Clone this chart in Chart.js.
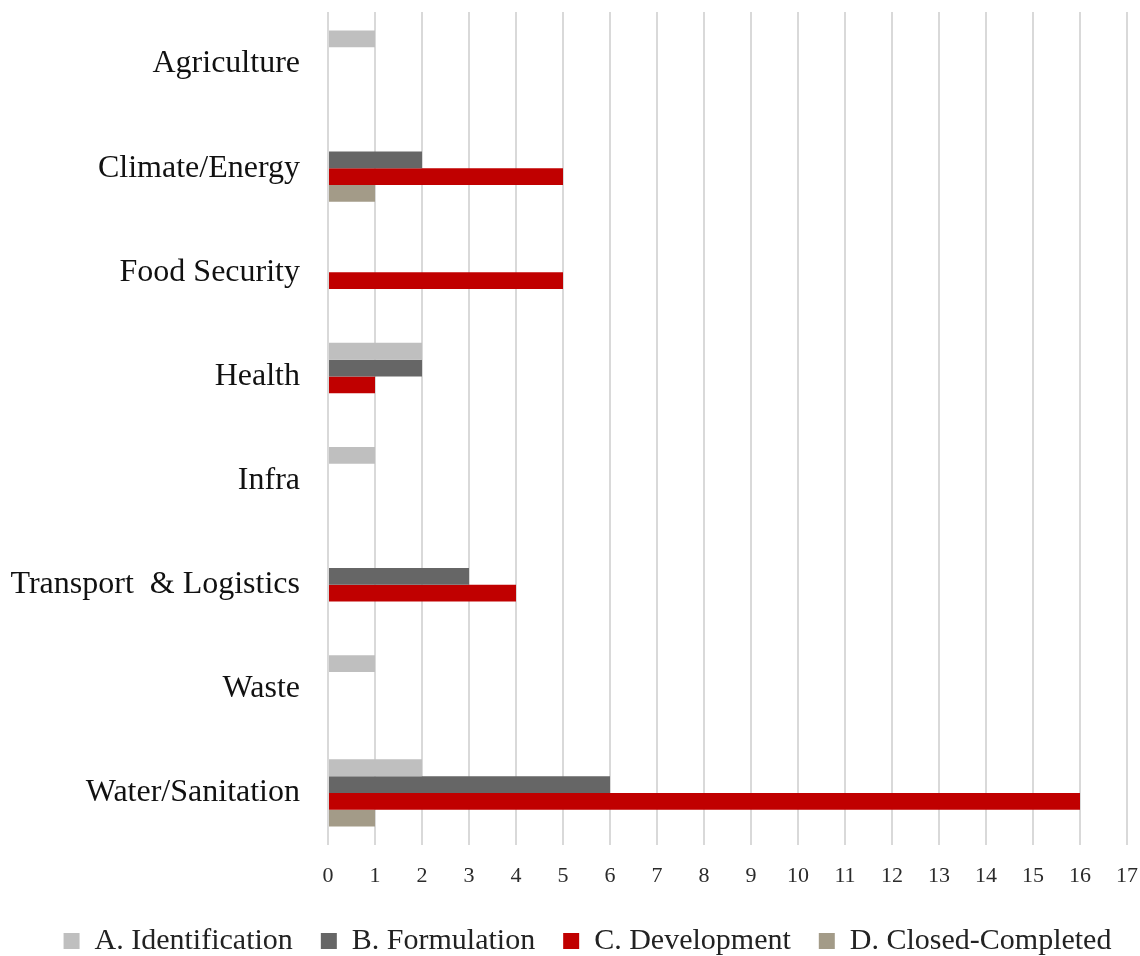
<!DOCTYPE html>
<html>
<head>
<meta charset="utf-8">
<script src="https://cdn.jsdelivr.net/npm/chart.js@4"></script>
<style>
  html, body { margin: 0; padding: 0; background: #fff; }
  #wrap { width: 1140px; height: 956px; }
</style>
</head>
<body>
<div id="wrap"><canvas id="grafico"></canvas></div>
<script>
const categorias = ['Agriculture', 'Climate/Energy', 'Food Security', 'Health', 'Infra', 'Transport  & Logistics', 'Waste', 'Water/Sanitation'];
const identificacao = [1, null, null, 2, 1, null, 1, 2];
const formulacao = [null, 2, null, 2, null, 3, null, 6];
const desenvolvimento = [null, 5, 5, 1, null, 4, null, 16];
const concluido = [null, 1, null, null, null, null, null, 1];
const serieNomes = ['A. Identification', 'B. Formulation', 'C. Development', 'D. Closed-Completed'];

const fonte = "'Liberation Serif', serif";
const ctx = document.getElementById('grafico').getContext('2d');

const chart = new Chart(ctx, {
  type: 'bar',
  data: {
    labels: categorias,
    datasets: [
      { label: serieNomes[0], data: identificacao, backgroundColor: '#bfbfbf' },
      { label: serieNomes[1], data: formulacao, backgroundColor: '#666666' },
      { label: serieNomes[2], data: desenvolvimento, backgroundColor: '#c00000' },
      { label: serieNomes[3], data: concluido, backgroundColor: '#a39b88' }
    ]
  },
  options: {
    indexAxis: 'y',
    responsive: true,
    maintainAspectRatio: false,
    animation: false,
    categoryPercentage: 0.645,
    barPercentage: 1.0,
    layout: { padding: { top: 12, right: 13, bottom: 0, left: 0 } },
    scales: {
      x: {
        min: 0,
        max: 17,
        ticks: { stepSize: 1, color: '#2b2b2b', padding: 18, font: { family: fonte, size: 22 } },
        grid: { color: '#d9d9d9', lineWidth: 2, drawTicks: false },
        border: { display: false },
        afterFit: (escala) => {
          escala.height = 53;
          escala.paddingLeft = 0;
          escala.paddingRight = 0;
        }
      },
      y: {
        ticks: { color: '#111', padding: 20, font: { family: fonte, size: 32 } },
        grid: { display: false },
        border: { display: false },
        afterFit: (escala) => {
          escala.width = 328;
          escala.paddingTop = 0;
          escala.paddingBottom = 0;
        }
      }
    },
    plugins: {
      legend: {
        position: 'bottom',
        labels: {
          color: '#222',
          boxWidth: 16,
          boxHeight: 16,
          padding: 28,
          font: { family: fonte, size: 30 }
        }
      },
      tooltip: { enabled: false }
    }
  }
});

// legenda mais baixa e um pouco para a direita, como no original
const fitLegenda = chart.legend.fit;
chart.legend.fit = function () {
  fitLegenda.call(this);
  if (this.isHorizontal()) this.height = 58;
};
const drawLegenda = chart.legend.draw;
chart.legend.draw = function () {
  this.ctx.save();
  this.ctx.translate(24, 0);
  drawLegenda.call(this);
  this.ctx.restore();
};
chart.update();
</script>
</body>
</html>
